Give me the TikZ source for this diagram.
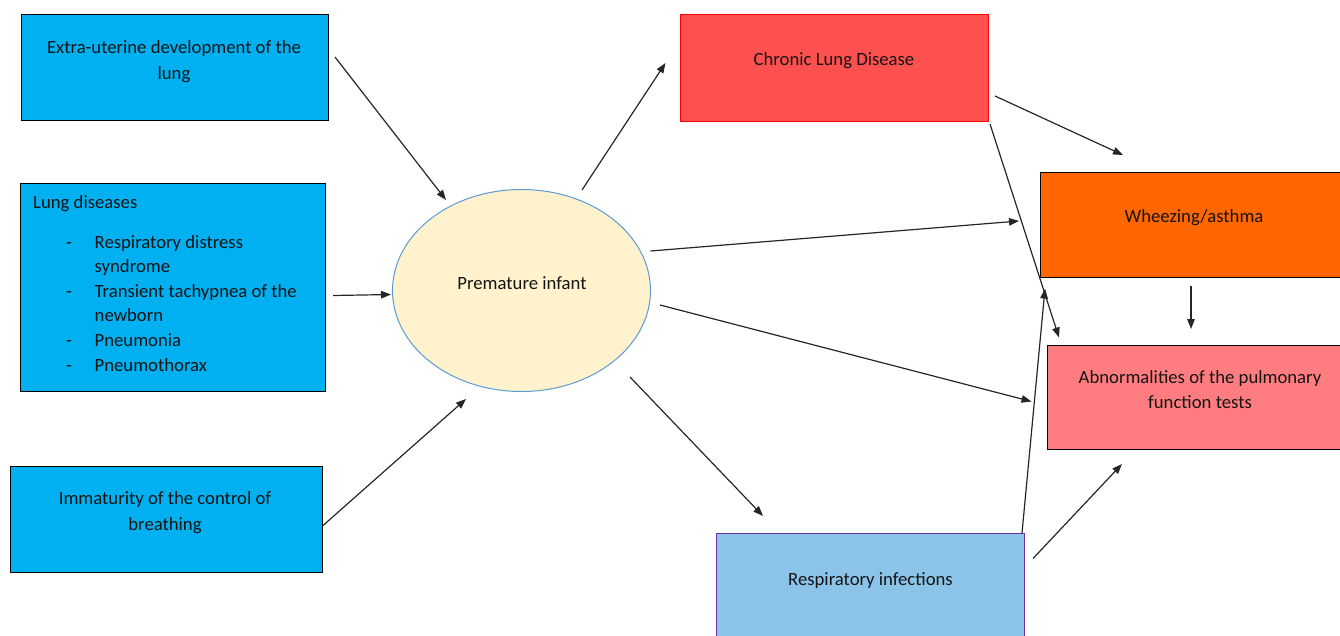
\documentclass[tikz,border=0pt]{standalone}
\usepackage{fontspec}
\setmainfont{Carlito}
\usetikzlibrary{arrows.meta,shapes.geometric}
\definecolor{cyanbox}{HTML}{00B0F0}
\definecolor{cream}{HTML}{FFF2CC}
\definecolor{ellblue}{HTML}{5B9BD5}
\definecolor{cldfill}{HTML}{FF5050}
\definecolor{wheeze}{HTML}{FF6600}
\definecolor{abnfill}{HTML}{FF7C80}
\definecolor{respfill}{HTML}{8BC4E8}
\definecolor{respborder}{HTML}{7030A0}
\begin{document}
\begin{tikzpicture}[x=1pt,y=-1pt,
  box/.style={draw=black,line width=1.3pt,inner sep=0pt,anchor=north west},
  txt/.style={font=\fontsize{18.7}{25.5}\selectfont,inner sep=0pt,text=black!92},
  arr/.style={-{Triangle[length=10pt,width=7.5pt]},line width=1.2pt,draw=black!85}]
\useasboundingbox (0,0) rectangle (1340,635);

% left boxes
\node[box,fill=cyanbox,minimum width=307pt,minimum height=106pt] (ext) at (21,14) {};
\node[txt,align=center,anchor=base] (extT) at (174,79) {Extra-uterine development of the\\lung};

\node[box,fill=cyanbox,minimum width=305pt,minimum height=208pt] (lung) at (20,183) {};
\node[txt,anchor=base west] (lungT) at (33,208) {Lung diseases};
\node[txt,align=left,anchor=base west,font=\fontsize{18.7}{24.6}\selectfont] (lungL) at (66,371)
  {\makebox[28.5pt][l]{-}Respiratory distress\\
   \hspace*{28.5pt}syndrome\\
   \makebox[28.5pt][l]{-}Transient tachypnea of the\\
   \hspace*{28.5pt}newborn\\
   \makebox[28.5pt][l]{-}Pneumonia\\
   \makebox[28.5pt][l]{-}Pneumothorax};

\node[box,fill=cyanbox,minimum width=312pt,minimum height=106pt] (imm) at (10,466) {};
\node[txt,align=center,anchor=base] (immT) at (165,530) {Immaturity of the control of\\breathing};

% centre
\node[ellipse,draw=ellblue,fill=cream,line width=1pt,minimum width=258pt,minimum height=202pt] (inf) at (521.5,290.5) {};
\node[txt,anchor=base] (infT) at (522,289.3) {Premature infant};

% right boxes
\node[box,draw=red,fill=cldfill,minimum width=308pt,minimum height=107pt] (cld) at (680,13.5) {};
\node[txt,anchor=base] (cldT) at (834,65.7) {Chronic Lung Disease};

\node[box,fill=wheeze,minimum width=330pt,minimum height=105pt] (wz) at (1040,172) {};
\node[txt,anchor=base] (wzT) at (1194,222.7) {Wheezing/asthma};

\node[box,fill=abnfill,minimum width=330pt,minimum height=104pt] (abn) at (1047,345) {};
\node[txt,align=center,anchor=base] (abnT) at (1200,408.5) {Abnormalities of the pulmonary\\function tests};

\node[box,draw=respborder,fill=respfill,line width=1pt,minimum width=308pt,minimum height=130pt] (resp) at (716,533) {};
\node[txt,anchor=base] (respT) at (870.5,585) {Respiratory infections};

% connector end points
\coordinate (a1s) at (335,57);   \coordinate (a1e) at (446,200);
\coordinate (a2s) at (333,295.5);\coordinate (a2e) at (391,294.5);
\coordinate (a3s) at (323,525.5);\coordinate (a3e) at (466,399);
\coordinate (a4s) at (582,190);  \coordinate (a4e) at (665.5,63);
\coordinate (a5s) at (650.5,251);\coordinate (a5e) at (1019,221);
\coordinate (a6s) at (660,305);  \coordinate (a6e) at (1031.5,401.5);
\coordinate (a7s) at (630,377);  \coordinate (a7e) at (763,516);
\coordinate (a8s) at (995,96);   \coordinate (a8e) at (1123,155);
\coordinate (a9s) at (990,124);  \coordinate (a9e) at (1059,337.5);
\coordinate (a10s) at (1022,533);\coordinate (a10e) at (1045,288.5);
\coordinate (a11s) at (1191,286);\coordinate (a11e) at (1191,329);
\coordinate (a12s) at (1033,558.5);\coordinate (a12e) at (1122,464);

\draw[arr] (a1s) -- (a1e);
\draw[arr] (a2s) -- (a2e);
\draw[arr] (a3s) -- (a3e);
\draw[arr] (a4s) -- (a4e);
\draw[arr] (a5s) -- (a5e);
\draw[arr] (a6s) -- (a6e);
\draw[arr] (a7s) -- (a7e);
\draw[arr] (a8s) -- (a8e);
\draw[arr] (a9s) -- (a9e);
\draw[arr] (a10s) -- (a10e);
\draw[arr] (a11s) -- (a11e);
\draw[arr] (a12s) -- (a12e);
\end{tikzpicture}
\end{document}
